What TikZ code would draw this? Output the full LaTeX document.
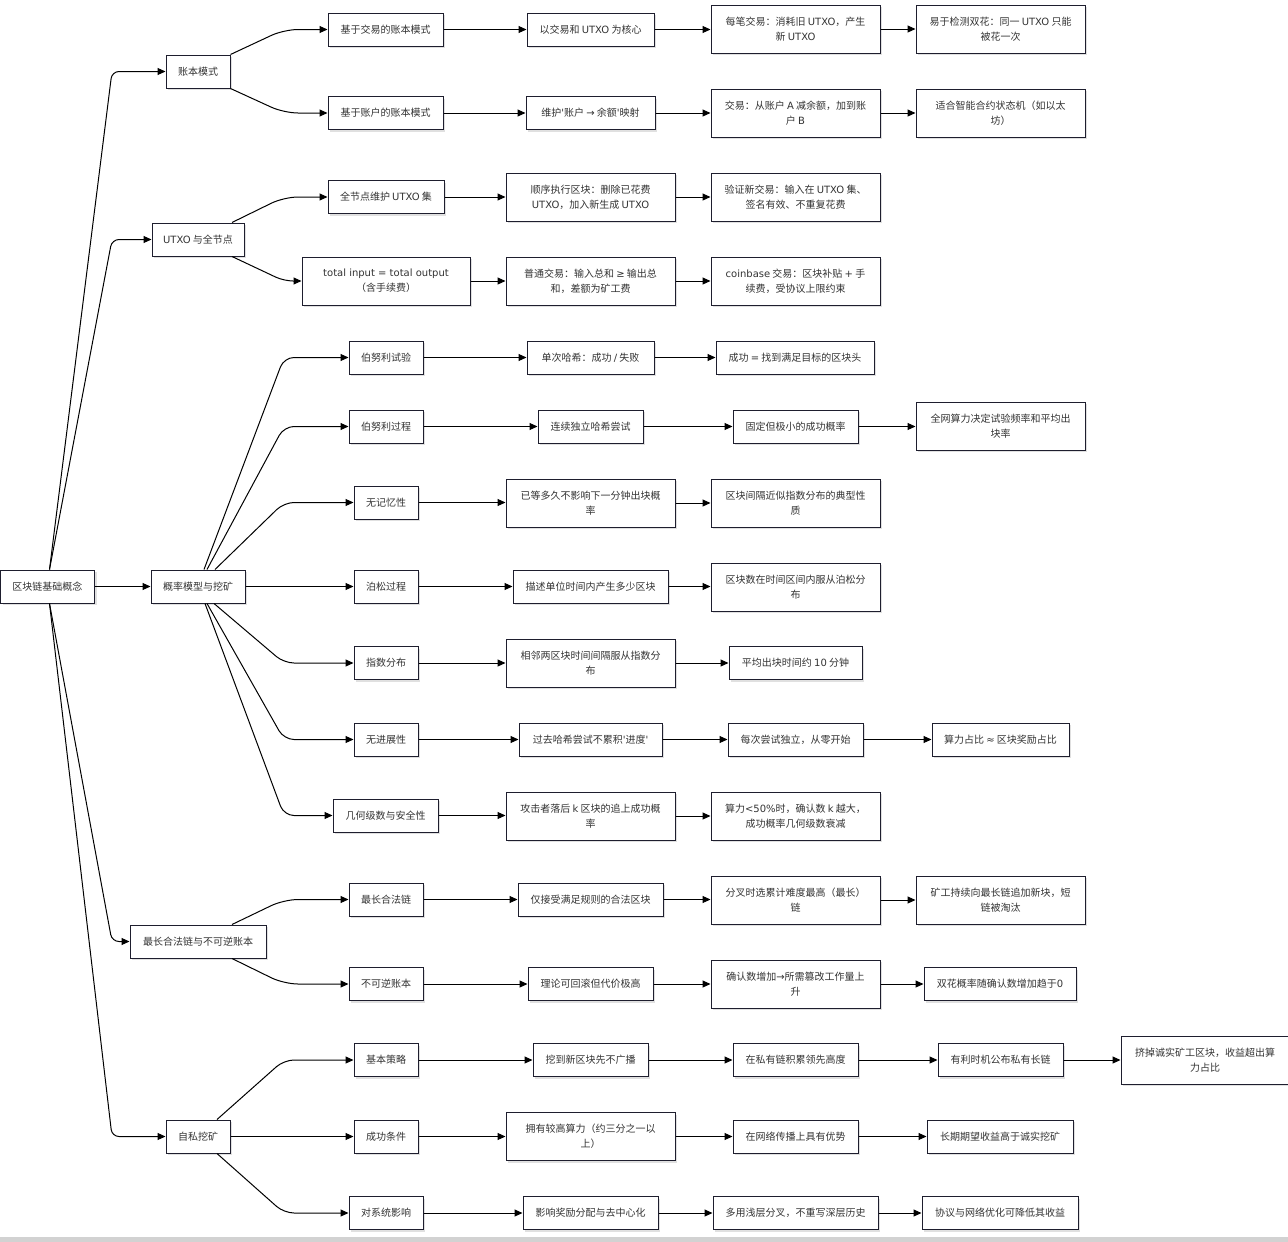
\documentclass[tikz,border=0pt]{standalone}
\usepackage{fontspec}
\newfontfamily\cjk{Noto Sans CJK SC}[Ligatures=TeXOff]
\newfontfamily\latf{DejaVu Sans}[Ligatures=TeXOff]
\newcommand\lt[1]{{\latf #1}}
\usetikzlibrary{arrows.meta,shadows}
\definecolor{boxc}{HTML}{1E1E2E}
\definecolor{txtc}{HTML}{333333}
\begin{document}
\begin{tikzpicture}[x=1pt,y=-1pt,
 box/.style={draw=boxc, line width=1pt, fill=white, text=txtc,
   font=\cjk\fontsize{10}{15}\selectfont, align=center, inner sep=0pt,
   minimum height=33pt,
   drop shadow={shadow xshift=2pt,shadow yshift=-2pt,fill=black,opacity=0.12}},
 tall/.style={minimum height=48pt},
 arr/.style={draw=black, line width=1pt, -{Triangle[length=8pt,width=7pt]}}]
\useasboundingbox (0,0) rectangle (1288,1242);
\fill[white] (0,0) rectangle (1288,1242);
\fill[gray!35] (0,1237) rectangle (1288,1242);

% root
\node[box,minimum width=94pt] (r) at (47.5,586.5) {区块链基础概念};
% level 1
\node[box,minimum width=64pt] (a) at (198,71.5) {账本模式};
\node[box,minimum width=92pt] (b) at (198,239.5) {\lt{UTXO} 与全节点};
\node[box,minimum width=94pt] (c) at (198,586.5) {概率模型与挖矿};
\node[box,minimum width=136pt] (d) at (198,941.5) {最长合法链与不可逆账本};
\node[box,minimum width=64pt] (e) at (198,1136.5) {自私挖矿};
% level 2
\node[box,minimum width=115pt] (a1) at (385.5,29.5) {基于交易的账本模式};
\node[box,minimum width=115pt] (a2) at (385.5,113) {基于账户的账本模式};
\node[box,minimum width=116pt] (b1) at (386,197) {全节点维护 \lt{UTXO} 集};
\node[box,tall,minimum width=168pt] (b2) at (386,281) {\lt{total input = total output}\\（含手续费）};
\node[box,minimum width=74pt] (c1) at (386,357.5) {伯努利试验};
\node[box,minimum width=74pt] (c2) at (386,426.5) {伯努利过程};
\node[box,minimum width=64pt] (c3) at (386,502.5) {无记忆性};
\node[box,minimum width=64pt] (c4) at (386,586.5) {泊松过程};
\node[box,minimum width=64pt] (c5) at (386,663) {指数分布};
\node[box,minimum width=64pt] (c6) at (386,739.5) {无进展性};
\node[box,minimum width=105pt] (c7) at (385.5,815.5) {几何级数与安全性};
\node[box,minimum width=74pt] (d1) at (386,899.5) {最长合法链};
\node[box,minimum width=74pt] (d2) at (386,984) {不可逆账本};
\node[box,minimum width=64pt] (e1) at (386,1060) {基本策略};
\node[box,minimum width=64pt] (e2) at (386,1136.5) {成功条件};
\node[box,minimum width=74pt] (e3) at (386,1213) {对系统影响};
% level 3
\node[box,minimum width=127pt] (a1b) at (590.5,29.5) {以交易和 \lt{UTXO} 为核心};
\node[box,minimum width=129pt] (a2b) at (590.5,113) {维护\lt{'}账户 \lt{→} 余额\lt{'}映射};
\node[box,tall,minimum width=169pt] (b1b) at (590.5,197) {顺序执行区块：删除已花费\\\lt{UTXO}，加入新生成 \lt{UTXO}};
\node[box,tall,minimum width=169pt] (b2b) at (590.5,281) {普通交易：输入总和 \lt{≥} 输出总\\和，差额为矿工费};
\node[box,minimum width=127pt] (c1b) at (590.5,357.5) {单次哈希：成功 \lt{/} 失败};
\node[box,minimum width=105pt] (c2b) at (590.5,426.5) {连续独立哈希尝试};
\node[box,tall,minimum width=169pt] (c3b) at (590.5,503) {已等多久不影响下一分钟出块概\\率};
\node[box,minimum width=155pt] (c4b) at (590.5,586.5) {描述单位时间内产生多少区块};
\node[box,tall,minimum width=169pt] (c5b) at (590.5,663) {相邻两区块时间间隔服从指数分\\布};
\node[box,minimum width=143pt] (c6b) at (590.5,739.5) {过去哈希尝试不累积\lt{'}进度\lt{'}};
\node[box,tall,minimum width=169pt] (c7b) at (590.5,816) {攻击者落后 \lt{k} 区块的追上成功概\\率};
\node[box,minimum width=145pt] (d1b) at (590.5,899.5) {仅接受满足规则的合法区块};
\node[box,minimum width=125pt] (d2b) at (590.5,984) {理论可回滚但代价极高};
\node[box,minimum width=115pt] (e1b) at (590.5,1060) {挖到新区块先不广播};
\node[box,tall,minimum width=169pt] (e2b) at (590.5,1136.5) {拥有较高算力（约三分之一以\\上）};
\node[box,minimum width=135pt] (e3b) at (590.5,1213) {影响奖励分配与去中心化};
% level 4
\node[box,tall,minimum width=169pt] (a1c) at (795.5,29) {每笔交易：消耗旧 \lt{UTXO}，产生\\新 \lt{UTXO}};
\node[box,tall,minimum width=169pt] (a2c) at (795.5,113) {交易：从账户 \lt{A} 减余额，加到账\\户 \lt{B}};
\node[box,tall,minimum width=169pt] (b1c) at (795.5,197) {验证新交易：输入在 \lt{UTXO} 集、\\签名有效、不重复花费};
\node[box,tall,minimum width=169pt] (b2c) at (795.5,281) {\lt{coinbase} 交易：区块补贴 \lt{+} 手\\续费，受协议上限约束};
\node[box,minimum width=158pt] (c1c) at (795,357.5) {成功 \lt{=} 找到满足目标的区块头};
\node[box,minimum width=125pt] (c2c) at (795.5,426.5) {固定但极小的成功概率};
\node[box,tall,minimum width=169pt] (c3c) at (795.5,503) {区块间隔近似指数分布的典型性\\质};
\node[box,tall,minimum width=169pt] (c4c) at (795.5,587) {区块数在时间区间内服从泊松分\\布};
\node[box,minimum width=133pt] (c5c) at (795.5,663) {平均出块时间约 \lt{10} 分钟};
\node[box,minimum width=135pt] (c6c) at (795.5,739.5) {每次尝试独立，从零开始};
\node[box,tall,minimum width=169pt] (c7c) at (795.5,816) {算力\lt{<50\%}时，确认数 \lt{k} 越大，\\成功概率几何级数衰减};
\node[box,tall,minimum width=169pt] (d1c) at (795.5,900) {分叉时选累计难度最高（最长）\\链};
\node[box,tall,minimum width=169pt] (d2c) at (795.5,984) {确认数增加\lt{→}所需篡改工作量上\\升};
\node[box,minimum width=125pt] (e1c) at (795.5,1060) {在私有链积累领先高度};
\node[box,minimum width=125pt] (e2c) at (795.5,1136.5) {在网络传播上具有优势};
\node[box,minimum width=165pt] (e3c) at (795.5,1213) {多用浅层分叉，不重写深层历史};
% level 5
\node[box,tall,minimum width=169pt] (a1d) at (1000.5,29) {易于检测双花：同一 \lt{UTXO} 只能\\被花一次};
\node[box,tall,minimum width=169pt] (a2d) at (1000.5,113) {适合智能合约状态机（如以太\\坊）};
\node[box,tall,minimum width=169pt] (c2d) at (1000.5,426) {全网算力决定试验频率和平均出\\块率};
\node[box,minimum width=137pt] (c6d) at (1000.5,739.5) {算力占比 \lt{≈} 区块奖励占比};
\node[box,tall,minimum width=169pt] (d1d) at (1000.5,900) {矿工持续向最长链追加新块，短\\链被淘汰};
\node[box,minimum width=152pt] (d2d) at (1000,984) {双花概率随确认数增加趋于\lt{0}};
\node[box,minimum width=125pt] (e1d) at (1000.5,1060) {有利时机公布私有长链};
\node[box,minimum width=146pt] (e2d) at (1000,1136.5) {长期期望收益高于诚实挖矿};
\node[box,minimum width=156pt] (e3d) at (1000,1213) {协议与网络优化可降低其收益};
% level 6
\node[box,tall,minimum width=168pt] (e1e) at (1205,1060) {挤掉诚实矿工区块，收益超出算\\力占比};

% connectors from root
\coordinate (bx) at (112,0);
\coordinate (fx) at (284,0);
\draw[arr,rounded corners=7pt] ([xshift=2pt]r.north) -- (bx |- a.west) -- (a.west);
\draw[arr,rounded corners=7pt] ([xshift=2pt]r.north) -- (bx |- b.west) -- (b.west);
\draw[arr] (r.east) -- (c.west);
\draw[arr,rounded corners=7pt] ([xshift=2pt]r.south) -- (bx |- d.west) -- (d.west);
\draw[arr,rounded corners=7pt] ([xshift=2pt]r.south) -- (bx |- e.west) -- (e.west);

% fans level1 -> level2
\draw[arr,rounded corners=14pt] (a.north east) -- (fx |- a1.west) -- (a1.west);
\draw[arr,rounded corners=14pt] (a.south east) -- (fx |- a2.west) -- (a2.west);
\draw[arr,rounded corners=14pt] ([xshift=34pt]b.north) -- (fx |- b1.west) -- (b1.west);
\draw[arr,rounded corners=9pt] ([xshift=34pt]b.south) -- (fx |- b2.west) -- (b2.west);
\draw[arr,rounded corners=10pt] ([xshift=6pt]c.north) -- (fx |- c1.west) -- (c1.west);
\draw[arr,rounded corners=10pt] ([xshift=9pt]c.north) -- (fx |- c2.west) -- (c2.west);
\draw[arr,rounded corners=10pt] ([xshift=17pt]c.north) -- (fx |- c3.west) -- (c3.west);
\draw[arr] (c.east) -- (c4.west);
\draw[arr,rounded corners=10pt] ([xshift=16pt]c.south) -- (fx |- c5.west) -- (c5.west);
\draw[arr,rounded corners=10pt] ([xshift=9pt]c.south) -- (fx |- c6.west) -- (c6.west);
\draw[arr,rounded corners=10pt] ([xshift=7pt]c.south) -- (fx |- c7.west) -- (c7.west);
\draw[arr,rounded corners=14pt] ([xshift=34pt]d.north) -- (fx |- d1.west) -- (d1.west);
\draw[arr,rounded corners=14pt] ([xshift=34pt]d.south) -- (fx |- d2.west) -- (d2.west);
\draw[arr,rounded corners=10pt] ([xshift=19pt]e.north) -- (fx |- e1.west) -- (e1.west);
\draw[arr] (e.east) -- (e2.west);
\draw[arr,rounded corners=10pt] ([xshift=19pt]e.south) -- (fx |- e3.west) -- (e3.west);

% horizontal chains
\foreach \s/\t in {a1/a1b,a1b/a1c,a1c/a1d,a2/a2b,a2b/a2c,a2c/a2d,
  b1/b1b,b1b/b1c,b2/b2b,b2b/b2c,
  c1/c1b,c1b/c1c,c2/c2b,c2b/c2c,c2c/c2d,c3/c3b,c3b/c3c,c4/c4b,c4b/c4c,
  c5/c5b,c5b/c5c,c6/c6b,c6b/c6c,c6c/c6d,c7/c7b,c7b/c7c,
  d1/d1b,d1b/d1c,d1c/d1d,d2/d2b,d2b/d2c,d2c/d2d,
  e1/e1b,e1b/e1c,e1c/e1d,e1d/e1e,e2/e2b,e2b/e2c,e2c/e2d,e3/e3b,e3b/e3c,e3c/e3d}
  \draw[arr] (\s.east) -- (\s.east -| \t.west);
\end{tikzpicture}
\end{document}
